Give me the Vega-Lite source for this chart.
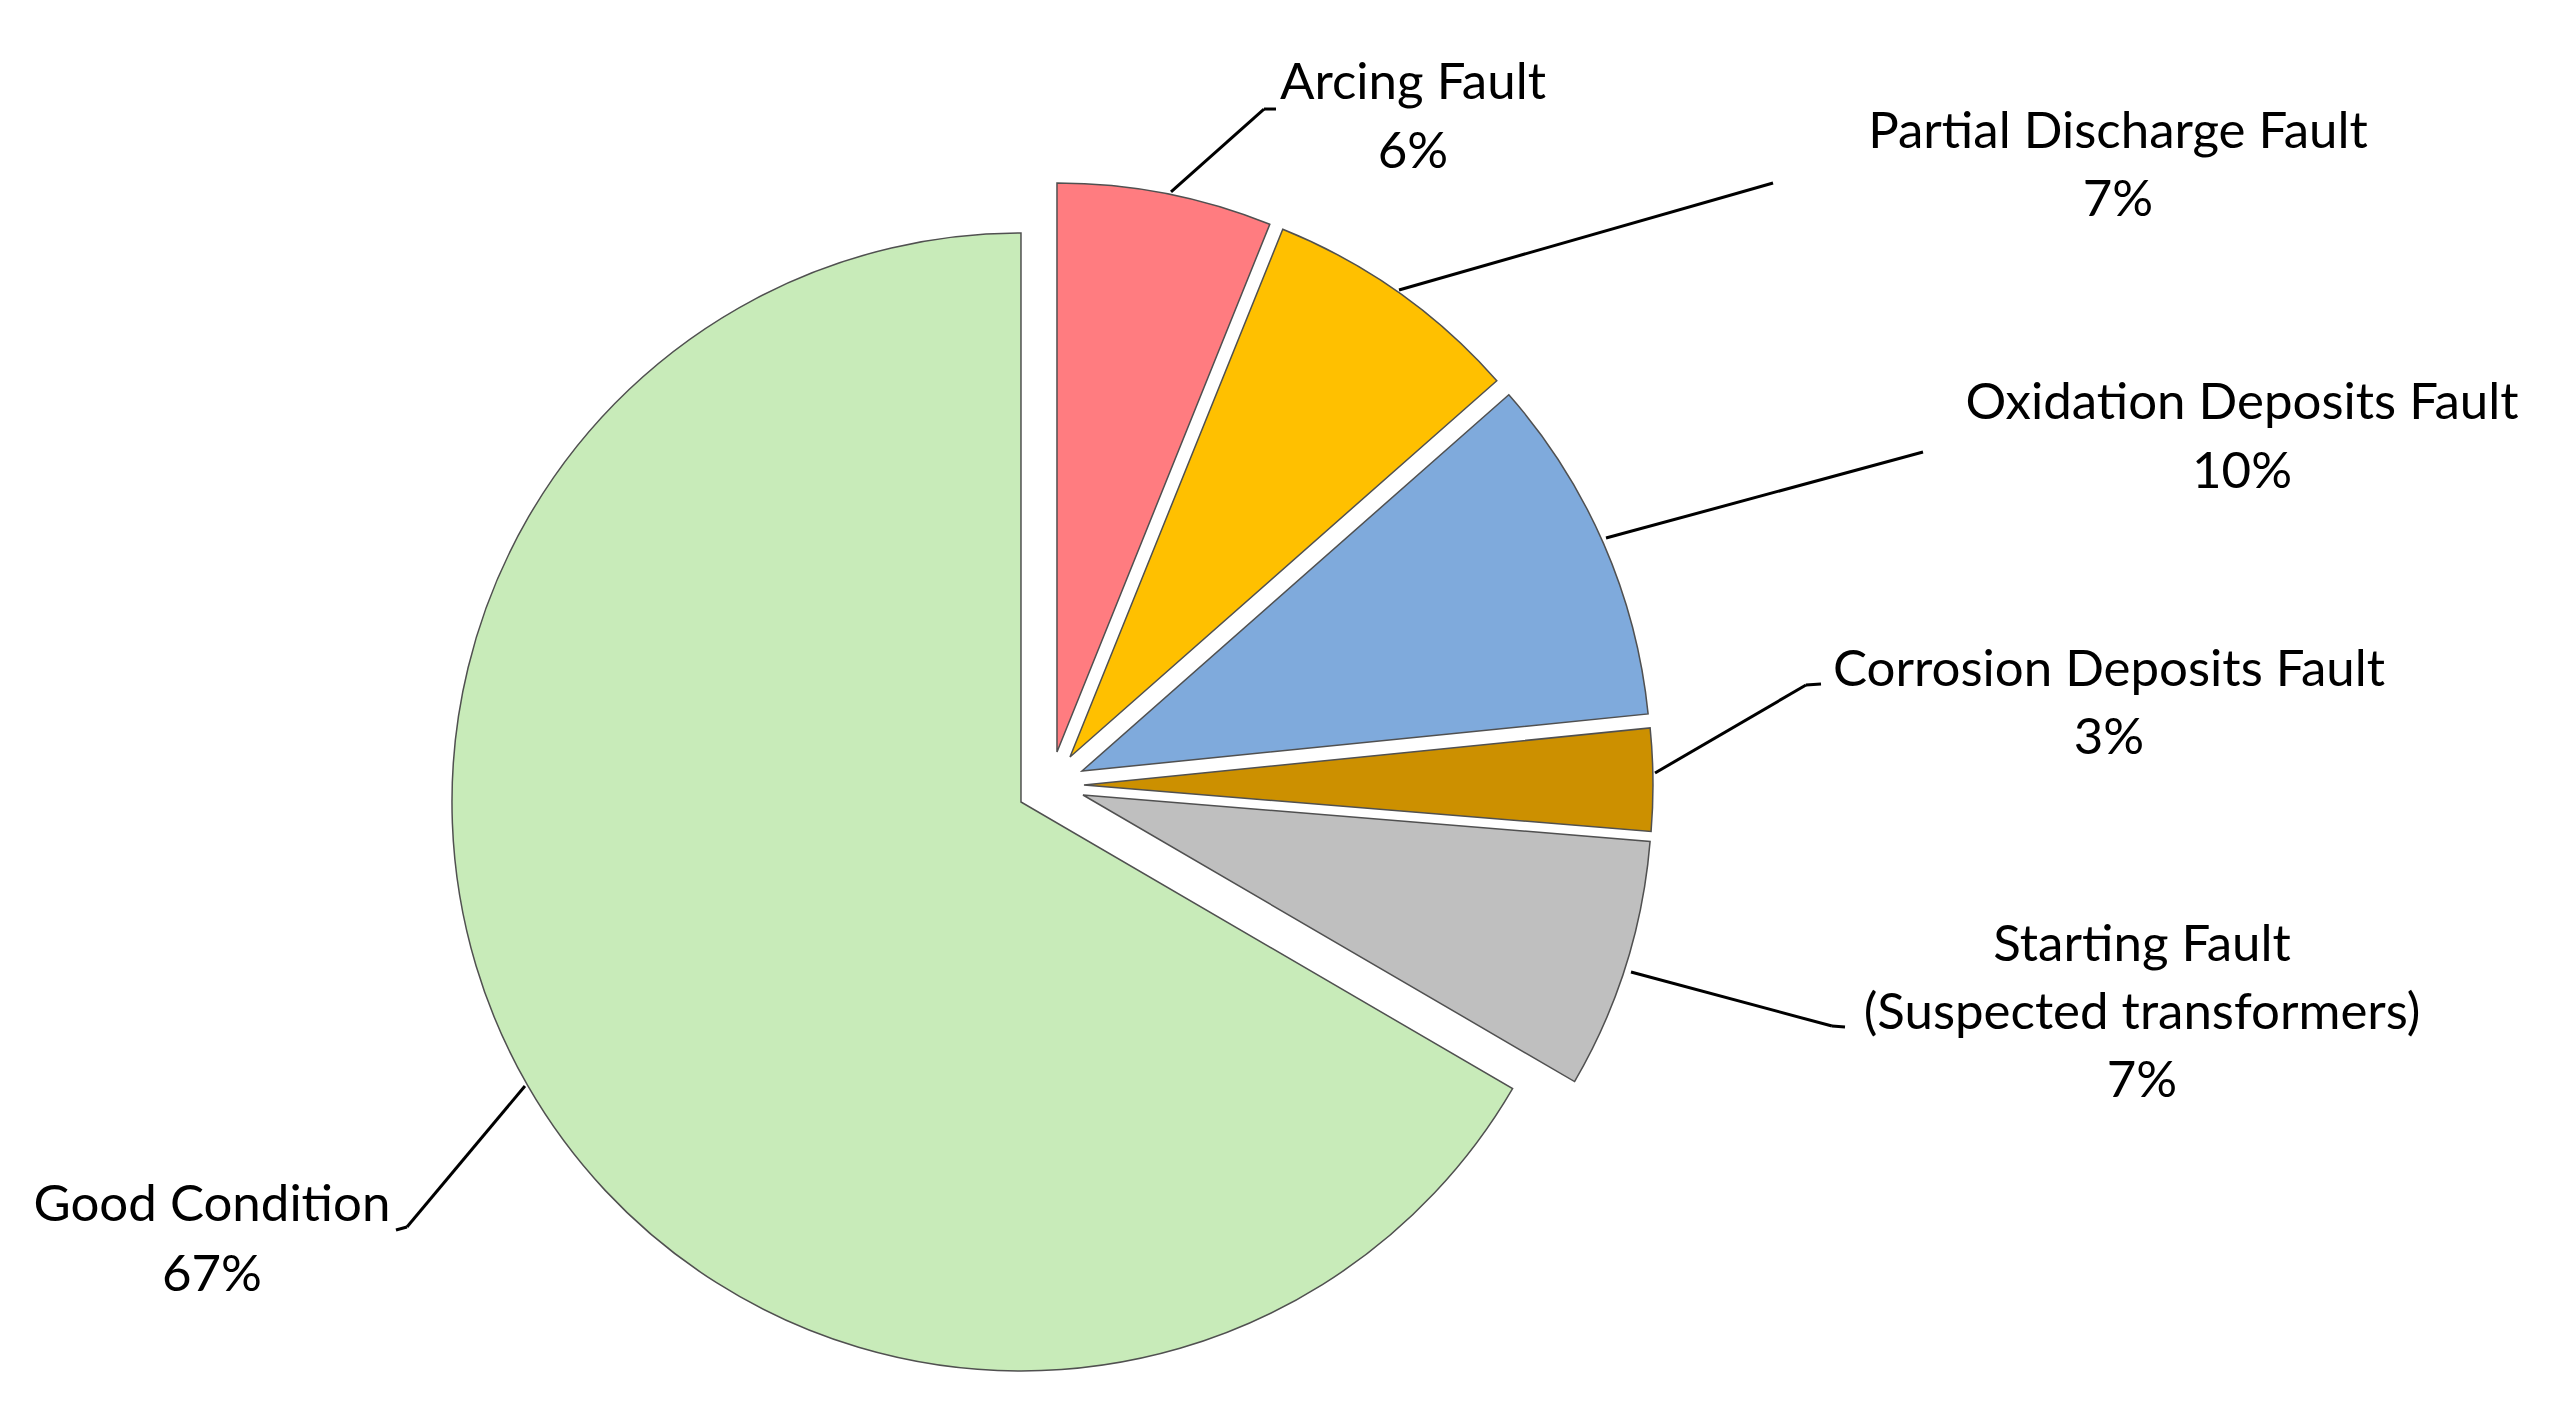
{
  "$schema": "https://vega.github.io/schema/vega-lite/v6.json",
  "width": 2557,
  "height": 1412,
  "autosize": {"type": "fit", "contains": "padding"},
  "padding": 0,
  "background": "white",
  "config": {"view": {"stroke": null}},
  "data": {
    "values": [
      {"category": "Arcing Fault", "share": 0.061},
      {"category": "Partial Discharge Fault", "share": 0.074},
      {"category": "Oxidation Deposits Fault", "share": 0.099},
      {"category": "Corrosion Deposits Fault", "share": 0.029},
      {"category": "Starting Fault\n(Suspected transformers)", "share": 0.071},
      {"category": "Good Condition", "share": 0.666}
    ]
  },
  "transform": [
    {"stack": "share", "groupby": [], "offset": "zero", "as": ["start", "end"]}
  ],
  "encoding": {
    "x": {"datum": 0, "type": "quantitative", "scale": {"domain": [-184.53, 264.85], "nice": false, "zero": false}, "axis": null},
    "y": {"datum": 0, "type": "quantitative", "scale": {"domain": [-110.19, 137.96], "nice": false, "zero": false}, "axis": null}
  },
  "layer": [
    {
      "transform": [{"filter": "datum.category === 'Good Condition'"}],
      "mark": {"type": "arc", "radius": 569, "xOffset": -29, "yOffset": 17, "stroke": "#505050", "strokeWidth": 1.5},
      "encoding": {
        "theta": {"field": "start", "type": "quantitative", "scale": {"domain": [0, 1], "range": [0, 6.283185307179586]}},
        "theta2": {"field": "end"},
        "color": {"field": "category", "type": "nominal", "legend": null,
          "scale": {"domain": ["Arcing Fault", "Partial Discharge Fault", "Oxidation Deposits Fault", "Corrosion Deposits Fault", "Starting Fault\n(Suspected transformers)", "Good Condition"],
                    "range": ["#FF7C80", "#FFC000", "#7FAADC", "#CC9000", "#BFBFBF", "#C8EBB9"]}}
      }
    },
    {
      "transform": [{"filter": "datum.category === 'Arcing Fault'"}],
      "mark": {"type": "arc", "radius": 569, "xOffset": 7, "yOffset": -33, "stroke": "#505050", "strokeWidth": 1.5},
      "encoding": {
        "theta": {"field": "start", "type": "quantitative"},
        "theta2": {"field": "end"},
        "color": {"field": "category", "type": "nominal", "legend": null}
      }
    },
    {
      "transform": [{"filter": "datum.category === 'Partial Discharge Fault'"}],
      "mark": {"type": "arc", "radius": 569, "xOffset": 20, "yOffset": -28, "stroke": "#505050", "strokeWidth": 1.5},
      "encoding": {
        "theta": {"field": "start", "type": "quantitative"},
        "theta2": {"field": "end"},
        "color": {"field": "category", "type": "nominal", "legend": null}
      }
    },
    {
      "transform": [{"filter": "datum.category === 'Oxidation Deposits Fault'"}],
      "mark": {"type": "arc", "radius": 569, "xOffset": 32, "yOffset": -14, "stroke": "#505050", "strokeWidth": 1.5},
      "encoding": {
        "theta": {"field": "start", "type": "quantitative"},
        "theta2": {"field": "end"},
        "color": {"field": "category", "type": "nominal", "legend": null}
      }
    },
    {
      "transform": [{"filter": "datum.category === 'Corrosion Deposits Fault'"}],
      "mark": {"type": "arc", "radius": 569, "xOffset": 34, "yOffset": 0, "stroke": "#505050", "strokeWidth": 1.5},
      "encoding": {
        "theta": {"field": "start", "type": "quantitative"},
        "theta2": {"field": "end"},
        "color": {"field": "category", "type": "nominal", "legend": null}
      }
    },
    {
      "transform": [{"filter": "indexof(datum.category, 'Starting Fault') === 0"}],
      "mark": {"type": "arc", "radius": 569, "xOffset": 33, "yOffset": 10, "stroke": "#505050", "strokeWidth": 1.5},
      "encoding": {
        "theta": {"field": "start", "type": "quantitative"},
        "theta2": {"field": "end"},
        "color": {"field": "category", "type": "nominal", "legend": null}
      }
    },

    {
      "transform": [{"filter": "datum.category === 'Arcing Fault'"}],
      "mark": {"type": "rule", "color": "black", "strokeWidth": 3},
      "encoding": {"x": {"datum": 21.27}, "y": {"datum": 104.22}, "x2": {"datum": 37.61}, "y2": {"datum": 118.80}}
    },
    {
      "transform": [{"filter": "datum.category === 'Arcing Fault'"}],
      "mark": {"type": "rule", "color": "black", "strokeWidth": 3},
      "encoding": {"x": {"datum": 37.61}, "y": {"datum": 118.80}, "x2": {"datum": 39.72}, "y2": {"datum": 118.80}}
    },
    {
      "transform": [{"filter": "datum.category === 'Partial Discharge Fault'"}],
      "mark": {"type": "rule", "color": "black", "strokeWidth": 3},
      "encoding": {"x": {"datum": 61.34}, "y": {"datum": 87.00}, "x2": {"datum": 127.07}, "y2": {"datum": 105.80}}
    },
    {
      "transform": [{"filter": "datum.category === 'Oxidation Deposits Fault'"}],
      "mark": {"type": "rule", "color": "black", "strokeWidth": 3},
      "encoding": {"x": {"datum": 97.72}, "y": {"datum": 43.41}, "x2": {"datum": 153.43}, "y2": {"datum": 58.52}}
    },
    {
      "transform": [{"filter": "datum.category === 'Corrosion Deposits Fault'"}],
      "mark": {"type": "rule", "color": "black", "strokeWidth": 3},
      "encoding": {"x": {"datum": 106.33}, "y": {"datum": 2.11}, "x2": {"datum": 132.86}, "y2": {"datum": 17.57}}
    },
    {
      "transform": [{"filter": "datum.category === 'Corrosion Deposits Fault'"}],
      "mark": {"type": "rule", "color": "black", "strokeWidth": 3},
      "encoding": {"x": {"datum": 132.86}, "y": {"datum": 17.57}, "x2": {"datum": 135.50}, "y2": {"datum": 17.75}}
    },
    {
      "transform": [{"filter": "indexof(datum.category, 'Starting Fault') === 0"}],
      "mark": {"type": "rule", "color": "black", "strokeWidth": 3},
      "encoding": {"x": {"datum": 102.11}, "y": {"datum": -32.86}, "x2": {"datum": 137.43}, "y2": {"datum": -42.36}}
    },
    {
      "transform": [{"filter": "indexof(datum.category, 'Starting Fault') === 0"}],
      "mark": {"type": "rule", "color": "black", "strokeWidth": 3},
      "encoding": {"x": {"datum": 137.43}, "y": {"datum": -42.36}, "x2": {"datum": 139.72}, "y2": {"datum": -42.53}}
    },
    {
      "transform": [{"filter": "datum.category === 'Good Condition'"}],
      "mark": {"type": "rule", "color": "black", "strokeWidth": 3},
      "encoding": {"x": {"datum": -92.27}, "y": {"datum": -52.90}, "x2": {"datum": -113.01}, "y2": {"datum": -77.68}}
    },
    {
      "transform": [{"filter": "datum.category === 'Good Condition'"}],
      "mark": {"type": "rule", "color": "black", "strokeWidth": 3},
      "encoding": {"x": {"datum": -113.01}, "y": {"datum": -77.68}, "x2": {"datum": -114.94}, "y2": {"datum": -78.21}}
    },

    {
      "transform": [{"filter": "datum.category === 'Arcing Fault'"}],
      "mark": {"type": "text", "font": "Lato", "fontSize": 51, "align": "center", "baseline": "alphabetic", "color": "black"},
      "encoding": {"x": {"datum": 63.80}, "y": {"datum": 120.5}, "text": {"field": "category", "type": "nominal"}}
    },
    {
      "transform": [{"filter": "datum.category === 'Arcing Fault'"}],
      "mark": {"type": "text", "font": "Lato", "fontSize": 51, "align": "center", "baseline": "alphabetic", "color": "black"},
      "encoding": {"x": {"datum": 63.80}, "y": {"datum": 108.5}, "text": {"field": "share", "type": "quantitative", "format": ".0%"}}
    },
    {
      "transform": [{"filter": "datum.category === 'Partial Discharge Fault'"}],
      "mark": {"type": "text", "font": "Lato", "fontSize": 51, "align": "center", "baseline": "alphabetic", "color": "black"},
      "encoding": {"x": {"datum": 187.70}, "y": {"datum": 111.9}, "text": {"field": "category", "type": "nominal"}}
    },
    {
      "transform": [{"filter": "datum.category === 'Partial Discharge Fault'"}],
      "mark": {"type": "text", "font": "Lato", "fontSize": 51, "align": "center", "baseline": "alphabetic", "color": "black"},
      "encoding": {"x": {"datum": 187.70}, "y": {"datum": 100.00}, "text": {"field": "share", "type": "quantitative", "format": ".0%"}}
    },
    {
      "transform": [{"filter": "datum.category === 'Oxidation Deposits Fault'"}],
      "mark": {"type": "text", "font": "Lato", "fontSize": 51, "align": "center", "baseline": "alphabetic", "color": "black"},
      "encoding": {"x": {"datum": 209.49}, "y": {"datum": 64.32}, "text": {"field": "category", "type": "nominal"}}
    },
    {
      "transform": [{"filter": "datum.category === 'Oxidation Deposits Fault'"}],
      "mark": {"type": "text", "font": "Lato", "fontSize": 51, "align": "center", "baseline": "alphabetic", "color": "black"},
      "encoding": {"x": {"datum": 209.49}, "y": {"datum": 52.2}, "text": {"field": "share", "type": "quantitative", "format": ".0%"}}
    },
    {
      "transform": [{"filter": "datum.category === 'Corrosion Deposits Fault'"}],
      "mark": {"type": "text", "font": "Lato", "fontSize": 51, "align": "center", "baseline": "alphabetic", "color": "black"},
      "encoding": {"x": {"datum": 186.12}, "y": {"datum": 17.40}, "text": {"field": "category", "type": "nominal"}}
    },
    {
      "transform": [{"filter": "datum.category === 'Corrosion Deposits Fault'"}],
      "mark": {"type": "text", "font": "Lato", "fontSize": 51, "align": "center", "baseline": "alphabetic", "color": "black"},
      "encoding": {"x": {"datum": 186.12}, "y": {"datum": 5.5}, "text": {"field": "share", "type": "quantitative", "format": ".0%"}}
    },
    {
      "transform": [{"filter": "indexof(datum.category, 'Starting Fault') === 0"}],
      "mark": {"type": "text", "font": "Lato", "fontSize": 51, "align": "center", "baseline": "alphabetic", "color": "black", "lineBreak": "\n", "lineHeight": 68},
      "encoding": {"x": {"datum": 191.92}, "y": {"datum": -30.93}, "text": {"field": "category", "type": "nominal"}}
    },
    {
      "transform": [{"filter": "indexof(datum.category, 'Starting Fault') === 0"}],
      "mark": {"type": "text", "font": "Lato", "fontSize": 51, "align": "center", "baseline": "alphabetic", "color": "black"},
      "encoding": {"x": {"datum": 191.92}, "y": {"datum": -54.83}, "text": {"field": "share", "type": "quantitative", "format": ".0%"}}
    },
    {
      "transform": [{"filter": "datum.category === 'Good Condition'"}],
      "mark": {"type": "text", "font": "Lato", "fontSize": 51, "align": "center", "baseline": "alphabetic", "color": "black"},
      "encoding": {"x": {"datum": -147.28}, "y": {"datum": -76.6}, "text": {"field": "category", "type": "nominal"}}
    },
    {
      "transform": [{"filter": "datum.category === 'Good Condition'"}],
      "mark": {"type": "text", "font": "Lato", "fontSize": 51, "align": "center", "baseline": "alphabetic", "color": "black"},
      "encoding": {"x": {"datum": -147.28}, "y": {"datum": -88.9}, "text": {"field": "share", "type": "quantitative", "format": ".0%"}}
    }
  ]
}
